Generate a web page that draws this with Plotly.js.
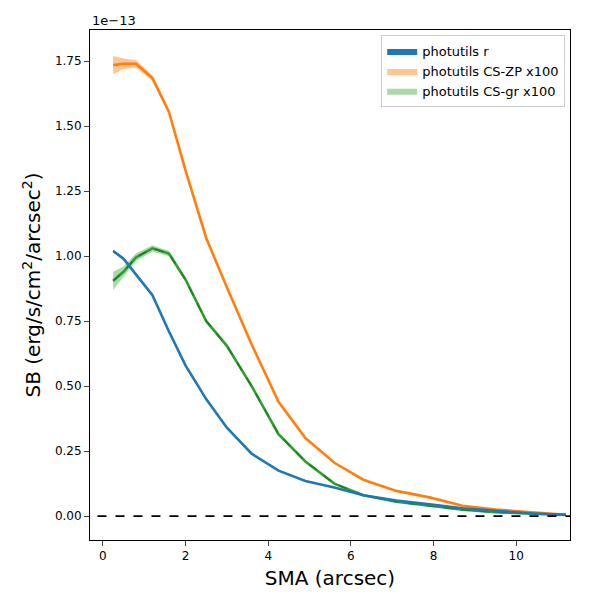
<!DOCTYPE html>
<html><head><script src="https://cdn.plot.ly/plotly-3.0.1.min.js"></script></head>
<body style="margin:0"><div id="g" style="width:600px;height:600px"></div>
<script>
const sma = [0.25,0.5,0.8,1.2,1.6,2.0,2.5,3.0,3.6,4.25,4.9,5.6,6.3,7.1,7.9,8.7,9.5,10.4,11.2];
const blue = [1.02,0.99,0.93,0.85,0.71,0.58,0.45,0.34,0.24,0.175,0.135,0.11,0.08,0.06,0.045,0.03,0.02,0.01,0.005];
const blueErr = [0.005,0.005,0.004,0.004,0.003,0.003,0.003,0.002,0.002,0.002,0.002,0.001,0.001,0.001,0.001,0.001,0.001,0.001,0.001];
const orange = [1.735,1.74,1.74,1.685,1.555,1.33,1.07,0.88,0.66,0.44,0.30,0.205,0.14,0.097,0.072,0.04,0.025,0.013,0.005];
const orangeErr = [0.035,0.02,0.015,0.01,0.008,0.006,0.005,0.005,0.004,0.004,0.003,0.003,0.002,0.002,0.002,0.002,0.001,0.001,0.001];
const green = [0.905,0.94,0.995,1.03,1.01,0.91,0.75,0.655,0.5,0.315,0.21,0.125,0.08,0.055,0.04,0.025,0.015,0.008,0.004];
const greenErr = [0.035,0.02,0.015,0.012,0.01,0.008,0.007,0.006,0.005,0.004,0.004,0.003,0.002,0.002,0.002,0.002,0.001,0.001,0.001];

function band(y,e,color,name){
  const up=y.map((v,i)=>v+e[i]), lo=y.map((v,i)=>v-e[i]);
  return {x:sma.concat(sma.slice().reverse()), y:up.concat(lo.reverse()), fill:'toself', fillcolor:color,
    line:{width:0}, mode:'lines', name:name, hoverinfo:'skip'};
}
const traces=[
  band(blue,blueErr,'#1f77b4','photutils r'),
  band(orange,orangeErr,'rgba(255,127,14,0.45)','photutils CS-ZP x100'),
  band(green,greenErr,'rgba(44,160,44,0.4)','photutils CS-gr x100'),
  {x:sma,y:orange,mode:'lines',line:{color:'#ff7f0e',width:2.6},showlegend:false},
  {x:sma,y:green,mode:'lines',line:{color:'#2ca02c',width:2.6},showlegend:false},
  {x:sma,y:green,mode:'lines',line:{color:'#237f23',width:1.6,dash:'dash'},showlegend:false},
  {x:sma,y:blue,mode:'lines',line:{color:'#1f77b4',width:2.6},showlegend:false},
  {x:[-1,12],y:[0,0],mode:'lines',line:{color:'black',width:1.6,dash:'dash'},showlegend:false}
];
const layout={
  width:600,height:600,margin:{l:90,r:30,t:30,b:60},
  paper_bgcolor:'white',plot_bgcolor:'white',
  font:{family:'DejaVu Sans',size:12,color:'black'},
  xaxis:{range:[-0.31,11.3],tickvals:[0,2,4,6,8,10],showgrid:false,zeroline:false,showline:true,mirror:true,linecolor:'black',ticks:'outside',
    title:{text:'SMA (arcsec)',font:{size:20},standoff:8}},
  yaxis:{range:[-0.092,1.87],tickvals:[0,0.25,0.5,0.75,1,1.25,1.5,1.75],tickformat:'.2f',showgrid:false,zeroline:false,showline:true,mirror:true,linecolor:'black',ticks:'outside',
    title:{text:'SB (erg/s/cm<sup>2</sup>/arcsec<sup>2</sup>)',font:{size:20},standoff:8}},
  legend:{x:0.99,y:0.99,xanchor:'right',yanchor:'top',bordercolor:'#ccc',borderwidth:1,bgcolor:'white',font:{size:13}},
  annotations:[{text:'1e−13',xref:'paper',yref:'paper',x:0,y:1,xanchor:'left',yanchor:'bottom',showarrow:false,font:{size:13}}]
};
Plotly.newPlot('g',traces,layout,{displayModeBar:false});
</script></body></html>
